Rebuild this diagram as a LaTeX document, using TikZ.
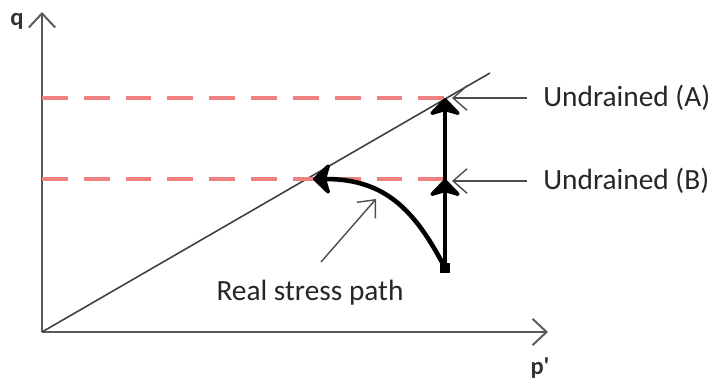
\documentclass[tikz,border=0pt]{standalone}
\usepackage{fontspec}
\setmainfont{Carlito}
\usetikzlibrary{arrows.meta}
\definecolor{dashred}{RGB}{240,128,128}
\begin{document}
\begin{tikzpicture}[x=0.02cm,y=-0.02cm,
  axis/.style={draw=black!65,line width=1.1pt,-{Straight Barb[length=8pt,width=15pt,line width=1.1pt]}},
  note/.style={draw=black!70,line width=0.8pt,-{Straight Barb[length=8pt,width=14pt,line width=0.8pt]}},
  redline/.style={draw=dashred,line width=1.75pt,dash pattern=on 14.7pt off 9.1pt},
  spath/.style={line width=2.6pt,black},
  headtip/.style={-{Stealth[length=11pt,width=21pt,inset=3pt,round]}},
  lbl/.style={font=\fontsize{16.7}{19}\selectfont,text=black!85,inner sep=0pt}]
\useasboundingbox (0,0) rectangle (710,385);
\coordinate (O) at (42,332);
\coordinate (Ytop) at (42,12);
\coordinate (Xend) at (548,332);
\coordinate (Fend) at (490,73);
\draw[axis] (O) -- (Ytop);
\draw[axis] (O) -- (Xend);
\node[font=\bfseries\fontsize{14}{16}\selectfont,text=black!80] (q) at (17,21) {q};
\node[font=\bfseries\fontsize{14}{16}\selectfont,text=black!80] (p) at (540,368) {p\textquotesingle};
\draw[black!75,line width=0.9pt] (O) -- (Fend);
% dashed red lines
\coordinate (RA0) at (42,98);
\coordinate (RA1) at (445,98);
\coordinate (RB0) at (42,179);
\coordinate (RB1) at (445,179);
\draw[redline] (RA0) -- (RA1);
\draw[redline] (RB0) -- (RB1);
% stress paths
\coordinate (S) at (445,268);
\coordinate (A) at (445,98);
\coordinate (B) at (445,179);
\coordinate (C) at (313,179);
\draw[spath,headtip] (S) -- (A);
\draw[spath,headtip] (S) -- (B);
\draw[spath,headtip] (S) .. controls (415,210) and (385,179) .. (C);
\fill (S) ++(-5,-5) rectangle ++(10,10);
% labels
\node[lbl,anchor=west] (UA) at (543,98) {Undrained (A)};
\node[lbl,anchor=west] (UB) at (543,181) {Undrained (B)};
\node[lbl] (R) at (310,293) {Real stress path};
\coordinate (UAe) at (452,98);
\coordinate (UBe) at (452,181);
\coordinate (Rs) at (321,262);
\coordinate (Re) at (376,199);
\draw[note] (UA.west) ++(-16,0) -- (UAe);
\draw[note] (UB.west) ++(-16,0) -- (UBe);
\draw[note] (Rs) -- (Re);
\end{tikzpicture}
\end{document}
